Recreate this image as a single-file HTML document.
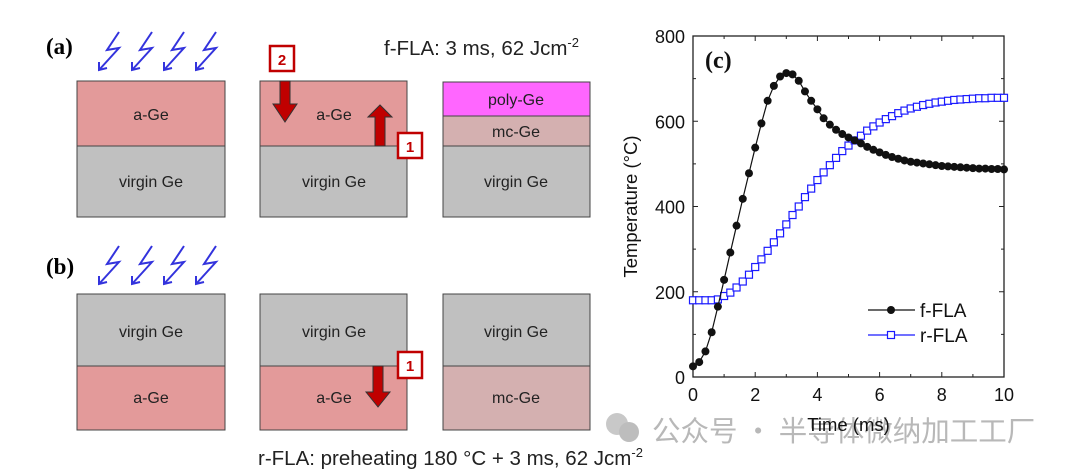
<!DOCTYPE html>
<html><head><meta charset="utf-8"><style>
html,body{margin:0;padding:0;background:#fff}
svg{display:block}
</style></head><body>
<svg width="1080" height="471" viewBox="0 0 1080 471" xmlns="http://www.w3.org/2000/svg" font-family="Liberation Sans, Arial, sans-serif">
<defs>
<g id="bolt"><path d="M10,0 L-2,18 L10,16 L-10,38" fill="none" stroke="#3333dd" stroke-width="2"/><path d="M-10,30 L-10,38 L-2,36" fill="none" stroke="#3333dd" stroke-width="2"/></g>
</defs>
<g>
<text x="46" y="54" style="font-family:'Liberation Serif',serif" font-weight="bold" font-size="23">(a)</text>
<g>
<use href="#bolt" x="109" y="32"/><use href="#bolt" x="142" y="32"/><use href="#bolt" x="174" y="32"/><use href="#bolt" x="206" y="32"/>
</g>
<text x="384" y="55" font-size="20.5" fill="#222">f-FLA: 3 ms, 62 Jcm<tspan dy="-8" font-size="13">-2</tspan></text>
<g>
<rect x="77" y="81" width="148" height="65" fill="#e39a9a" stroke="#444"/>
<rect x="77" y="146" width="148" height="71" fill="#c0c0c0" stroke="#444"/>
<text x="151" y="120" font-size="16" text-anchor="middle" fill="#222">a-Ge</text>
<text x="151" y="187" font-size="16" text-anchor="middle" fill="#222">virgin Ge</text>
</g>
<g>
<rect x="260" y="81" width="147" height="65" fill="#e39a9a" stroke="#444"/>
<rect x="260" y="146" width="147" height="71" fill="#c0c0c0" stroke="#444"/>
<text x="334" y="120" font-size="16" text-anchor="middle" fill="#222">a-Ge</text>
<text x="334" y="187" font-size="16" text-anchor="middle" fill="#222">virgin Ge</text>
<path d="M280,81 L290,81 L290,104 L297,104 L285,122 L273,104 L280,104 Z" fill="#c00000" stroke="#333" stroke-width="1"/>
<path d="M375,146 L385,146 L385,117 L392,117 L380,105 L368,117 L375,117 Z" fill="#c00000" stroke="#333" stroke-width="1"/>
<rect x="270" y="46" width="24" height="25" fill="#fff" stroke="#c00000" stroke-width="2.5"/>
<text x="282" y="65" font-size="15" font-weight="bold" fill="#c00000" text-anchor="middle">2</text>
<rect x="398" y="133" width="24" height="25" fill="#fff" stroke="#c00000" stroke-width="2.5"/>
<text x="410" y="152" font-size="15" font-weight="bold" fill="#c00000" text-anchor="middle">1</text>
</g>
<g>
<rect x="443" y="82" width="147" height="34" fill="#ff66ff" stroke="#444"/>
<rect x="443" y="116" width="147" height="30" fill="#d4b0b0" stroke="#444"/>
<rect x="443" y="146" width="147" height="71" fill="#c0c0c0" stroke="#444"/>
<text x="516" y="105" font-size="16" text-anchor="middle" fill="#222">poly-Ge</text>
<text x="516" y="137" font-size="16" text-anchor="middle" fill="#222">mc-Ge</text>
<text x="516" y="187" font-size="16" text-anchor="middle" fill="#222">virgin Ge</text>
</g>
</g>
<g>
<text x="46" y="274" style="font-family:'Liberation Serif',serif" font-weight="bold" font-size="23">(b)</text>
<g>
<use href="#bolt" x="109" y="246"/><use href="#bolt" x="142" y="246"/><use href="#bolt" x="174" y="246"/><use href="#bolt" x="206" y="246"/>
</g>
<g>
<rect x="77" y="294" width="148" height="72" fill="#c0c0c0" stroke="#444"/>
<rect x="77" y="366" width="148" height="64" fill="#e39a9a" stroke="#444"/>
<text x="151" y="337" font-size="16" text-anchor="middle" fill="#222">virgin Ge</text>
<text x="151" y="403" font-size="16" text-anchor="middle" fill="#222">a-Ge</text>
</g>
<g>
<rect x="260" y="294" width="147" height="72" fill="#c0c0c0" stroke="#444"/>
<rect x="260" y="366" width="147" height="64" fill="#e39a9a" stroke="#444"/>
<text x="334" y="337" font-size="16" text-anchor="middle" fill="#222">virgin Ge</text>
<text x="334" y="403" font-size="16" text-anchor="middle" fill="#222">a-Ge</text>
<path d="M373,366 L383,366 L383,392 L390,392 L378,407 L366,392 L373,392 Z" fill="#c00000" stroke="#333" stroke-width="1"/>
<rect x="398" y="352" width="24" height="26" fill="#fff" stroke="#c00000" stroke-width="2.5"/>
<text x="410" y="371" font-size="15" font-weight="bold" fill="#c00000" text-anchor="middle">1</text>
</g>
<g>
<rect x="443" y="294" width="147" height="72" fill="#c0c0c0" stroke="#444"/>
<rect x="443" y="366" width="147" height="64" fill="#d4b0b0" stroke="#444"/>
<text x="516" y="337" font-size="16" text-anchor="middle" fill="#222">virgin Ge</text>
<text x="516" y="403" font-size="16" text-anchor="middle" fill="#222">mc-Ge</text>
</g>
<text x="258" y="465" font-size="20.5" fill="#222">r-FLA: preheating 180 °C + 3 ms, 62 Jcm<tspan dy="-8" font-size="13">-2</tspan></text>
</g>
<g>
<circle cx="617" cy="424" r="11" fill="#c8c8c8"/><circle cx="629" cy="432" r="10" fill="#bdbdbd"/>
<text x="652" y="441" font-size="28.5" fill="#b8b8b8" style="font-family:'Noto Sans CJK SC',sans-serif">公众号 · 半导体微纳加工工厂</text>
</g>
<g id="chart"></g>
</svg>
<script>
const times=[0,0.2,0.4,0.6,0.8,1.0,1.2,1.4,1.6,1.8,2.0,2.2,2.4,2.6,2.8,3.0,3.2,3.4,3.6,3.8,4.0,4.2,4.4,4.6,4.8,5.0,5.2,5.4,5.6,5.8,6.0,6.2,6.4,6.6,6.8,7.0,7.2,7.4,7.6,7.8,8.0,8.2,8.4,8.6,8.8,9.0,9.2,9.4,9.6,9.8,10];
const fFLA=[25,35,60,105,165,228,292,355,418,478,538,595,648,683,705,713,710,695,670,648,628,607,592,580,570,562,555,548,540,533,527,521,516,512,508,505,503,501,499,497,495,494,493,492,491,490,489,489,488,488,487];
const rFLA=[180,180,180,180,182,190,198,210,224,240,258,276,296,316,337,358,380,400,422,442,462,480,497,514,530,543,555,566,578,588,597,605,612,619,625,630,634,638,641,644,646,648,650,651,652,653,654,654,655,655,655];
const xTicks=[0,2,4,6,8,10];
const yTicks=[0,200,400,600,800];
const NS='http://www.w3.org/2000/svg';
const X0=693,X1=1004,Y0=377,Y1=36;
const xs=v=>X0+(v-0)/(10-0)*(X1-X0);
const ys=v=>Y0-(v-0)/(800-0)*(Y0-Y1);
const g=document.getElementById('chart');
function mk(tag,attrs,parent){const e=document.createElementNS(NS,tag);for(const k in attrs)e.setAttribute(k,attrs[k]);(parent||g).appendChild(e);return e;}
const frame=mk('rect',{x:X0,y:Y1,width:X1-X0,height:Y0-Y1,fill:'none',stroke:'#222','stroke-width':1.3});


xTicks.forEach((t,i)=>{
  const x=xs(t);
  mk('line',{x1:x,x2:x,y1:Y0,y2:Y0-5,stroke:'#222'});
  mk('line',{x1:x,x2:x,y1:Y1,y2:Y1+5,stroke:'#222'});
  if(i<xTicks.length-1){const xm=xs(t+1);mk('line',{x1:xm,x2:xm,y1:Y0,y2:Y0-3,stroke:'#222'});mk('line',{x1:xm,x2:xm,y1:Y1,y2:Y1+3,stroke:'#222'});}
  const tx=mk('text',{x:x,y:Y0+24,'font-size':18,'text-anchor':'middle',fill:'#111'});tx.textContent=t;
  
  
});
yTicks.forEach((t,i)=>{
  const y=ys(t);
  mk('line',{x1:X0,x2:X0+5,y1:y,y2:y,stroke:'#222'});
  mk('line',{x1:X1,x2:X1-5,y1:y,y2:y,stroke:'#222'});
  if(i<yTicks.length-1){const ym=ys(t+100);mk('line',{x1:X0,x2:X0+3,y1:ym,y2:ym,stroke:'#222'});mk('line',{x1:X1,x2:X1-3,y1:ym,y2:ym,stroke:'#222'});}
  const ty=mk('text',{x:X0-8,y:y+7,'font-size':18,'text-anchor':'end',fill:'#111'});ty.textContent=t;
  
  
});
const xt=mk('text',{x:(X0+X1)/2,y:431,'font-size':18.5,'text-anchor':'middle',fill:'#111'});xt.textContent='Time (ms)';


const yt=mk('text',{x:0,y:0,'font-size':18.5,'text-anchor':'middle',fill:'#111',transform:`translate(637,${(Y0+Y1)/2}) rotate(-90)`});yt.textContent='Temperature (°C)';


const lc=mk('text',{x:705,y:68,'font-size':24,'font-weight':'bold',style:"font-family:'Liberation Serif',serif",fill:'#111'});lc.textContent='(c)';


const rl=mk('polyline',{points:times.map((t,i)=>xs(t)+','+ys(rFLA[i])).join(' '),fill:'none',stroke:'#1a1aff','stroke-width':1.2});


times.forEach((t,i)=>{const r=mk('rect',{x:xs(t)-3.5,y:ys(rFLA[i])-3.5,width:7,height:7,fill:'#fff',stroke:'#1a1aff','stroke-width':1.2});

});
const fl=mk('polyline',{points:times.map((t,i)=>xs(t)+','+ys(fFLA[i])).join(' '),fill:'none',stroke:'#111','stroke-width':1.2});


times.forEach((t,i)=>{const c=mk('circle',{cx:xs(t),cy:ys(fFLA[i]),r:4,fill:'#111'});

});
const lg=mk('g',{});


mk('line',{x1:868,x2:915,y1:310,y2:310,stroke:'#111','stroke-width':1.2},lg);
mk('circle',{cx:891,cy:310,r:4,fill:'#111'},lg);
const l1=mk('text',{x:920,y:317,'font-size':19,fill:'#111'},lg);l1.textContent='f-FLA';
mk('line',{x1:868,x2:915,y1:335,y2:335,stroke:'#1a1aff','stroke-width':1.2},lg);
mk('rect',{x:887.5,y:331.5,width:7,height:7,fill:'#fff',stroke:'#1a1aff','stroke-width':1.2},lg);
const l2=mk('text',{x:920,y:342,'font-size':19,fill:'#111'},lg);l2.textContent='r-FLA';
</script>
</body></html>
